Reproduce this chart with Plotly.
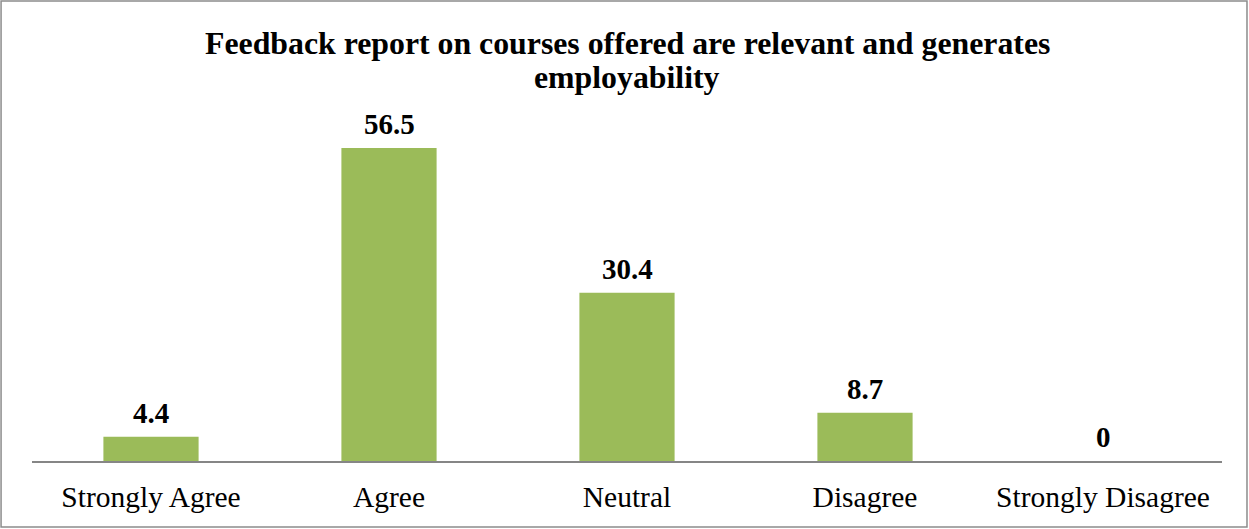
import plotly.graph_objects as go

categories = ['Strongly Agree', 'Agree', 'Neutral', 'Disagree', 'Strongly Disagree']
values = [4.4, 56.5, 30.4, 8.7, 0]
value_labels = ['4.4', '56.5', '30.4', '8.7', '0']
title_lines = ['Feedback report on courses offered are relevant and generates', 'employability']

FONT = 'Liberation Serif, Times New Roman, serif'

fig = go.Figure(go.Bar(
    x=categories,
    y=values,
    width=0.4,
    marker=dict(color='#9BBB59', line=dict(width=0)),
    hoverinfo='x+y',
))

# value labels above bars
for cat, val, lab in zip(categories, values, value_labels):
    fig.add_annotation(
        x=cat, y=val, text=f'<b>{lab}</b>', showarrow=False,
        yanchor='bottom', yshift=6,
        font=dict(family=FONT, size=29, color='black'),
    )

# title, two lines placed separately (tight line spacing)
for ty, line in zip([1.160, 1.064], title_lines):
    fig.add_annotation(
        xref='paper', yref='paper', x=0.5, y=ty, xanchor='center', yanchor='middle',
        text=f'<b>{line}</b>', showarrow=False,
        font=dict(family=FONT, size=31.8, color='black'),
    )

# chart border
fig.add_shape(
    type='rect', xref='paper', yref='paper',
    x0=-0.026, x1=1.021, y0=-0.183, y1=1.278,
    line=dict(color='#8c8c8c', width=1.5),
)

fig.update_layout(
    width=1249, height=529,
    margin=dict(l=32, r=27, t=101, b=68),
    paper_bgcolor='white', plot_bgcolor='white',
    font=dict(family=FONT, color='black'),
    showlegend=False,
    bargap=0.6,
)
fig.update_xaxes(
    showline=True, linecolor='#868686', linewidth=2,
    ticks='', tickfont=dict(family=FONT, size=29.5, color='black'),
    ticklabelstandoff=9,
)
fig.update_yaxes(range=[0, 65], visible=False, showgrid=False)

fig.write_html('out.html', config={'displayModeBar': False},
               post_script="document.body.style.margin='0';")
